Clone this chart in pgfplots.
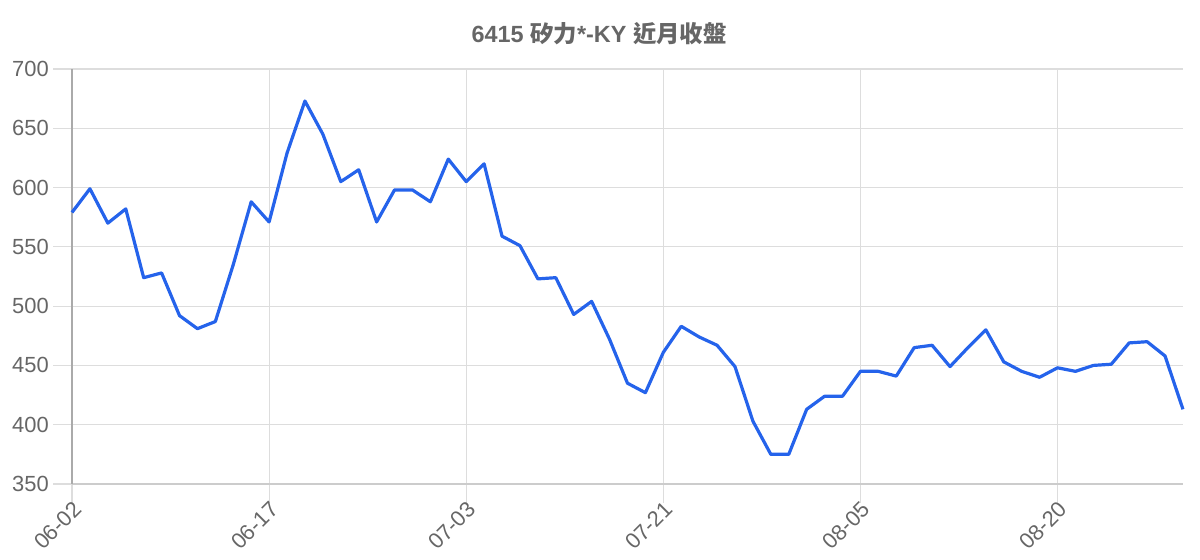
\documentclass[border=0pt]{standalone}
\usepackage{fontspec}
\setmainfont{Liberation Sans}
\newfontfamily\cjk{Noto Sans CJK TC}
\usepackage{pgfplots}
\pgfplotsset{compat=1.18}
\usepackage{pgfplotstable}

\definecolor{lineblue}{HTML}{2563EB}
\definecolor{gridgray}{HTML}{DDDDDD}
\definecolor{axisgray}{HTML}{AAAAAA}
\definecolor{bottomgray}{HTML}{CCCCCC}
\definecolor{textgray}{HTML}{666666}

% closing price, one row per trading day
\pgfplotstableread{
idx close
0 579
1 599
2 570
3 582
4 524
5 528
6 492
7 481
8 487
9 535
10 588
11 571
12 629
13 673
14 645
15 605
16 615
17 571
18 598
19 598
20 588
21 624
22 605
23 620
24 559
25 551
26 523
27 524
28 493
29 504
30 472
31 435
32 427
33 461
34 483
35 474
36 467
37 449
38 403
39 375
40 375
41 413
42 424
43 424
44 445
45 445
46 441
47 465
48 467
49 449
50 465
51 480
52 453
53 445
54 440
55 448
56 445
57 450
58 451
59 469
60 470
61 458
62 413
}\closes

\begin{document}
\begin{tikzpicture}[x=1bp,y=1bp]
\useasboundingbox (0,0) rectangle (1200,560);
\begin{axis}[
    at={(72bp,76bp)}, anchor=south west,
    scale only axis,
    width=1111bp, height=415bp,
    xmin=0, xmax=62,
    ymin=350, ymax=700,
    axis x line=bottom, axis y line=left,
    axis line style={-},
    x axis line style={draw=bottomgray, line width=1.2bp},
    y axis line style={draw=axisgray, line width=1.5bp},
    xtick={0,11,22,33,44,55},
    xticklabels={06-02,06-17,07-03,07-21,08-05,08-20},
    ytick={350,400,...,700},
    grid=major,
    major grid style={draw=gridgray, line width=1.2bp},
    tick align=outside,
    major tick length=19bp,
    major tick style={draw=gridgray, line width=1.2bp},
    /pgf/number format/assume math mode=true,
    /pgf/number format/1000 sep={},
    tick label style={font=\fontsize{22}{24}\selectfont, text=textgray},
    yticklabel style={inner sep=0pt, xshift=-4bp},
    xticklabel style={rotate=45, anchor=east, inner sep=0pt, xshift=2bp, yshift=-6bp},
    title={\bfseries 6415 {\cjk\bfseries 矽力}*-KY {\cjk\bfseries 近月收盤}},
    title style={font=\fontsize{23.5}{26}\selectfont, text=textgray,
        at={(axis description cs:0.4745,1)}, anchor=center, yshift=29bp},
    clip=false,
]
\addplot[lineblue, line width=3.2bp, line join=round, no markers] table[x=idx, y=close] {\closes};
\end{axis}
\end{tikzpicture}
\end{document}
